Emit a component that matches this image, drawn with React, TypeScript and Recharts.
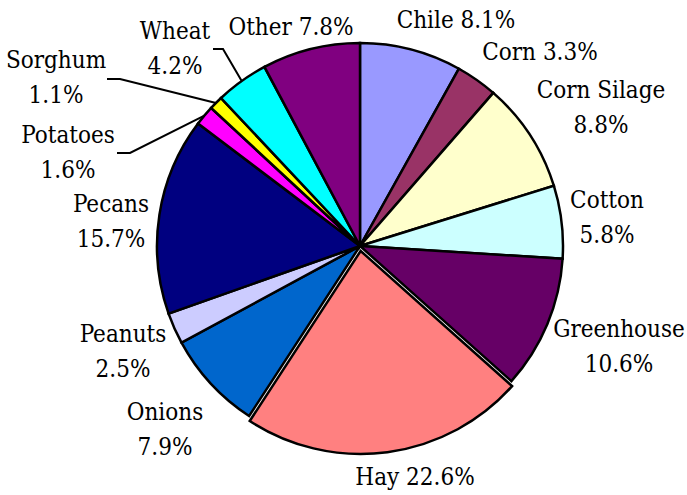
import { PieChart, Pie, Cell } from "recharts";

// Share of farm cash receipts by crop (%), clockwise from 12 o'clock
const crops = ["Chile", "Corn", "Corn Silage", "Cotton", "Greenhouse", "Hay", "Onions", "Peanuts", "Pecans", "Potatoes", "Sorghum", "Wheat", "Other"];
const shares = [8.1, 3.3, 8.8, 5.8, 10.6, 22.6, 7.9, 2.5, 15.7, 1.6, 1.1, 4.2, 7.8];
const colors = ["#9999FF", "#993366", "#FFFFCC", "#CCFFFF", "#660066", "#FF8080", "#0066CC", "#CCCCFF", "#000080", "#FF00FF", "#FFFF00", "#00FFFF", "#800080"];

const data = crops.map((name, i) => ({ name, value: shares[i] }));

const W = 687;
const H = 495;
const CX = 360;
const CY = 246;
const R = 203;
const FONT = "'DejaVu Serif Condensed', 'DejaVu Serif', serif";
const LINE = 35;
const EDGE = 2.5;
const EXPLODED = "Hay";
const EXPLODE_PX = 5;

// label anchor (text centre, first baseline) relative to the pie centre
const LABEL_AT: Record<string, { dx: number; dy: number; split: boolean }> = {
  Chile: { dx: 96, dy: -218, split: false },
  Corn: { dx: 180, dy: -186, split: false },
  "Corn Silage": { dx: 241, dy: -148, split: true },
  Cotton: { dx: 247, dy: -38, split: true },
  Greenhouse: { dx: 259, dy: 91, split: true },
  Hay: { dx: 55, dy: 239, split: false },
  Onions: { dx: -195, dy: 174, split: true },
  Peanuts: { dx: -237, dy: 96, split: true },
  Pecans: { dx: -249, dy: -34, split: true },
  Potatoes: { dx: -292, dy: -103, split: true },
  Sorghum: { dx: -304, dy: -178, split: true },
  Wheat: { dx: -185, dy: -207, split: true },
  Other: { dx: -69, dy: -211, split: false },
};

// leader lines for the thin slices: elbow, then end, relative to the pie centre
const LEADERS: Record<string, [number, number][]> = {
  Wheat: [[-137, -197], [-147, -197]],
  Sorghum: [[-240, -167], [-253, -167]],
  Potatoes: [[-230, -93], [-243, -93]],
};

function renderLabel(props: any) {
  const { midAngle, outerRadius, index } = props;
  const cx = props.cx ?? CX;
  const cy = props.cy ?? CY;
  const name = crops[index];
  const pos = LABEL_AT[name];
  const pct = `${shares[index].toFixed(1)}%`;
  const x = cx + pos.dx;
  const y = cy + pos.dy;

  const leader = LEADERS[name];
  let line = null;
  if (leader) {
    const rad = (-midAngle * Math.PI) / 180;
    const pts = [[cx + outerRadius * Math.cos(rad), cy + outerRadius * Math.sin(rad)], ...leader.map(([dx, dy]) => [cx + dx, cy + dy])];
    line = <polyline points={pts.map((p) => p.join(",")).join(" ")} fill="none" stroke="#000" strokeWidth={2} />;
  }

  return (
    <g key={`lbl-${name}`}>
      {line}
      <text x={x} y={y} textAnchor="middle" fill="#000" style={{ fontFamily: FONT, fontStretch: "condensed", fontSize: 24 }}>
        {pos.split ? (
          <>
            <tspan x={x} y={y}>{name}</tspan>
            <tspan x={x} y={y + LINE}>{pct}</tspan>
          </>
        ) : (
          `${name} ${pct}`
        )}
      </text>
    </g>
  );
}

export default function App() {
  const total = shares.reduce((a, b) => a + b, 0);
  const hayIdx = crops.indexOf(EXPLODED);
  const before = shares.slice(0, hayIdx).reduce((a, b) => a + b, 0);
  const midRad = ((90 - ((before + shares[hayIdx] / 2) / total) * 360) * Math.PI) / 180;
  const shiftX = EXPLODE_PX * Math.cos(midRad);
  const shiftY = -EXPLODE_PX * Math.sin(midRad);

  return (
    <div style={{ position: "absolute", left: 0, top: 0, width: W, height: H, background: "#fff" }}>
      <PieChart width={W} height={H} margin={{ top: 0, right: 0, bottom: 0, left: 0 }}>
        <Pie
          data={data}
          dataKey="value"
          nameKey="name"
          cx={CX}
          cy={CY}
          outerRadius={R}
          startAngle={90}
          endAngle={-270}
          label={renderLabel}
          labelLine={false}
          isAnimationActive={false}
        >
          {data.map((d, i) =>
            i === hayIdx ? (
              <Cell key={d.name} fill="transparent" stroke="none" />
            ) : (
              <Cell key={d.name} fill={colors[i]} stroke="#000" strokeWidth={EDGE} />
            )
          )}
        </Pie>
        {/* the exploded slice, pulled out along its mid angle */}
        <Pie
          data={data}
          dataKey="value"
          nameKey="name"
          cx={CX + shiftX}
          cy={CY + shiftY}
          outerRadius={R}
          startAngle={90}
          endAngle={-270}
          label={false}
          labelLine={false}
          isAnimationActive={false}
        >
          {data.map((d, i) =>
            i === hayIdx ? (
              <Cell key={d.name} fill={colors[i]} stroke="#000" strokeWidth={EDGE} />
            ) : (
              <Cell key={d.name} fill="none" stroke="none" />
            )
          )}
        </Pie>
      </PieChart>
    </div>
  );
}
